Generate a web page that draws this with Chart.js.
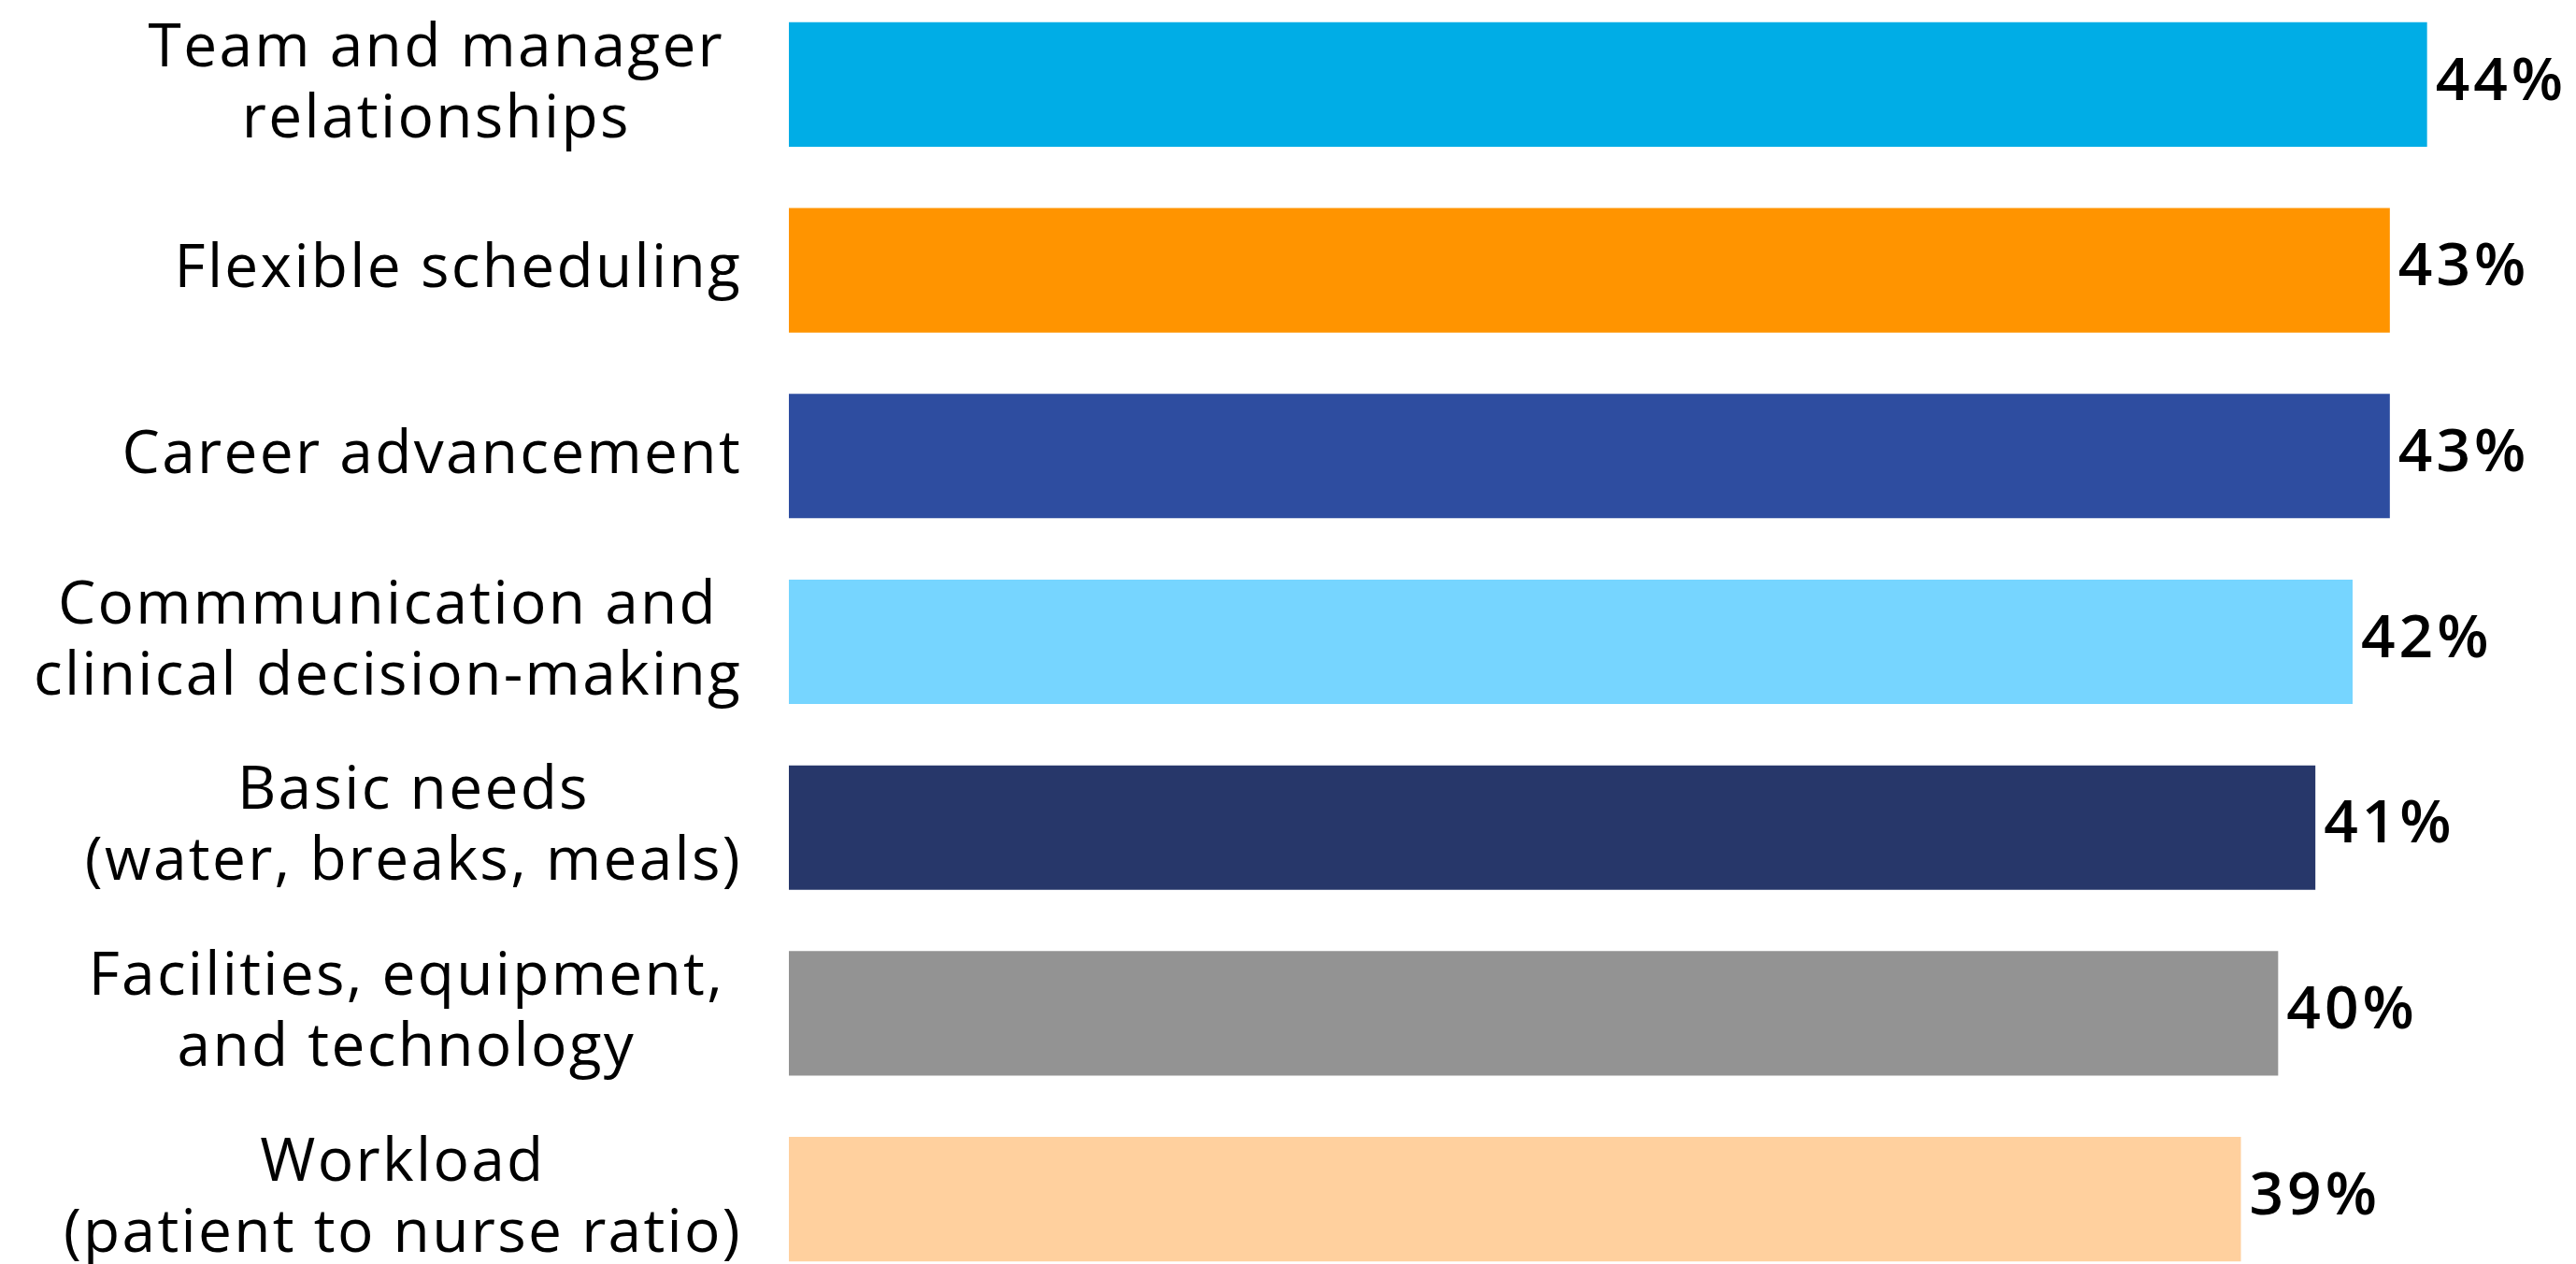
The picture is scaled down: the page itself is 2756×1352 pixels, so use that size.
<!DOCTYPE html>
<html>
<head>
<meta charset="utf-8">
<script src="https://cdn.jsdelivr.net/npm/chart.js@4.4.1/dist/chart.umd.min.js"></script>
<style>
  html, body { margin: 0; padding: 0; background: #ffffff; overflow: hidden; width: 2756px; height: 1352px; }
  #wrap { position: absolute; left: 0; top: -9px; width: 2756px; height: 1391px; }
</style>
</head>
<body>
<div id="wrap"><canvas id="chart"></canvas></div>
<script>
// ---- data ----
const categories = [
  ["Team and manager ", "relationships "],
  ["Flexible scheduling"],
  ["Career advancement"],
  ["Commmunication and", "clinical decision-making"],
  ["Basic needs", "(water, breaks, meals)"],
  ["Facilities, equipment, ", "and technology "],
  ["Workload", "(patient to nurse ratio)"]
];
const values = [44, 43, 43, 42, 41, 40, 39];
const valueSuffix = "%";
const barColors = ["#00ADE6", "#FF9400", "#2E4DA0", "#76D5FF", "#27376A", "#939393", "#FFD09E"];

const LABEL_FONT = '400 64px "Open Sans", sans-serif';
const VALUE_FONT = '600 64px "Open Sans", sans-serif';
const LINE_H = 76;

const labelPlugin = {
  id: 'labels',
  afterDatasetsDraw(chart) {
    const ctx = chart.ctx;
    const yScale = chart.scales.y;
    const meta = chart.getDatasetMeta(0);
    ctx.save();
    ctx.fillStyle = '#000000';
    ctx.textBaseline = 'middle';
    ctx.font = LABEL_FONT;
    ctx.letterSpacing = '2.3px';
    const rightEdge = yScale.right - 50;
    categories.forEach((lines, i) => {
      const yc = yScale.getPixelForTick(i);
      const blockW = Math.max(...lines.map(l => ctx.measureText(l).width));
      const cx = rightEdge - blockW / 2;
      ctx.textAlign = 'center';
      lines.forEach((l, k) => {
        const y = yc + (k - (lines.length - 1) / 2) * LINE_H;
        ctx.fillText(l, cx, y);
      });
    });
    ctx.font = VALUE_FONT;
    ctx.letterSpacing = '4px';
    ctx.textAlign = 'left';
    meta.data.forEach((bar, i) => {
      ctx.fillText(values[i] + valueSuffix, bar.x + 9, bar.y - 2);
    });
    ctx.restore();
  }
};

new Chart(document.getElementById('chart'), {
  type: 'bar',
  data: {
    labels: categories,
    datasets: [{
      data: values,
      backgroundColor: barColors,
      borderWidth: 0,
      barPercentage: 0.67,
      categoryPercentage: 1.0
    }]
  },
  options: {
    indexAxis: 'y',
    responsive: true,
    maintainAspectRatio: false,
    animation: false,
    layout: { padding: 0 },
    plugins: { legend: { display: false }, tooltip: { enabled: false } },
    scales: {
      x: { display: false, min: 0, max: 48 },
      y: {
        grid: { display: false, drawTicks: false },
        border: { display: false },
        ticks: { display: false },
        afterFit(scale) { scale.width = 844; }
      }
    }
  },
  plugins: [labelPlugin]
});
</script>
</body>
</html>
